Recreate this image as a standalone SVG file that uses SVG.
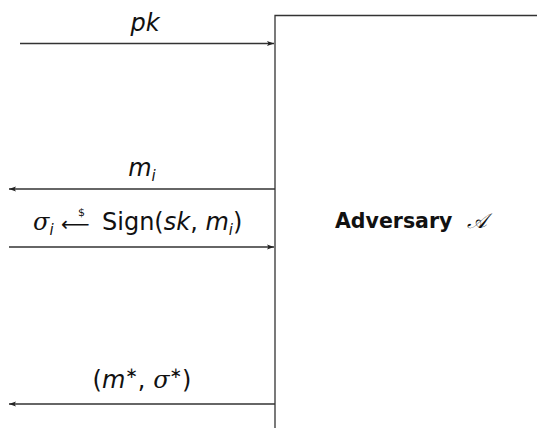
<svg xmlns="http://www.w3.org/2000/svg" width="537" height="430" viewBox="0 0 537 430">
<defs>
<marker id="ah" markerWidth="8" markerHeight="6" refX="7" refY="3" orient="auto" markerUnits="userSpaceOnUse">
<path d="M0,0.5 L7,3 L0,5.5 L1.5,3 Z" fill="#222"/>
</marker>
<style>
.ln{stroke:#333;stroke-width:1.3;fill:none}
.lbl{font-family:"DejaVu Sans",sans-serif;font-size:24px;fill:#111}
.c{text-anchor:middle}
.it{font-style:italic}
.sub{font-size:15px;font-style:italic}
.mth{font-family:"DejaVu Serif","Liberation Serif",serif;font-style:italic}
</style>
</defs>
<rect width="537" height="430" fill="#fff"/>
<g id="adversary">
<path class="ln" d="M275,428 V15.5 H537"/>
<text x="335" y="228" style="font-family:'DejaVu Sans',sans-serif;font-size:20.5px;font-weight:bold;fill:#111">Adversary</text>
<text x="467" y="228" style="font-family:'DejaVu Serif','Liberation Serif',serif;font-style:italic;font-size:21px;fill:#111">𝒜</text>
</g>
<g id="connectors">
<line class="ln" x1="20" y1="43.5" x2="274" y2="43.5" marker-end="url(#ah)"/>
<line class="ln" x1="275" y1="189" x2="9" y2="189" marker-end="url(#ah)"/>
<line class="ln" x1="9" y1="247" x2="274" y2="247" marker-end="url(#ah)"/>
<line class="ln" x1="275" y1="404" x2="9" y2="404" marker-end="url(#ah)"/>
</g>
<g id="labels">
<text class="lbl it c" x="145" y="31">pk</text>
<text class="lbl c" x="142" y="176"><tspan class="it">m</tspan><tspan class="sub" dy="5">i</tspan></text>
<text class="lbl" x="33" y="230"><tspan class="mth">σ</tspan><tspan class="sub" dy="5">i</tspan></text>
<text class="lbl" x="61" y="231" style="font-size:20px">⟵</text>
<text class="lbl" x="78" y="216" style="font-size:11px">$</text>
<text class="lbl" x="102" y="230">Sign(<tspan class="it">sk</tspan>, <tspan class="it">m</tspan><tspan class="sub" dy="5">i</tspan><tspan dy="-5">)</tspan></text>
<text class="lbl c" x="142" y="388">(<tspan class="it">m</tspan><tspan font-size="15" dy="-10">∗</tspan><tspan dy="10">, </tspan><tspan class="mth">σ</tspan><tspan font-size="15" dy="-10">∗</tspan><tspan dy="10">)</tspan></text>
</g>
</svg>
